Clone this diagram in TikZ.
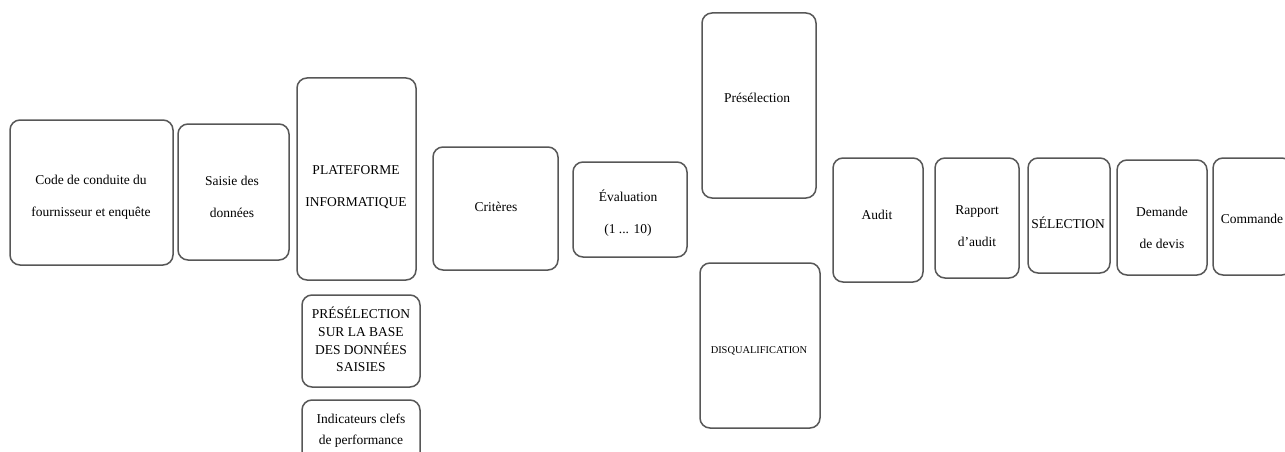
\documentclass[tikz,border=0pt]{standalone}
\usepackage{fontspec}
\setmainfont{Liberation Serif}
\begin{document}
\begin{tikzpicture}[x=1pt,y=-1pt,
  box/.style={draw=black!66, line width=1.5pt, rounded corners=10pt, inner sep=0pt, fill=white},
  txt/.style={align=center, inner sep=0pt, font=\fontsize{13.5}{32}\selectfont},
  txtsm/.style={align=center, inner sep=0pt, font=\fontsize{13.5}{17.7}\selectfont},
  txtmd/.style={align=center, inner sep=0pt, font=\fontsize{13.5}{21}\selectfont}]
\useasboundingbox (0,0) rectangle (1285,452);
\clip (0,0) rectangle (1285,452);
% boxes
\node[box, minimum width=163pt, minimum height=145pt] (code) at (91.5,192.5) {};
\node[box, minimum width=111pt, minimum height=136pt] (saisie) at (233.5,192) {};
\node[box, minimum width=119pt, minimum height=202pt] (plat) at (356.5,179) {};
\node[box, minimum width=118pt, minimum height=92pt] (presbase) at (361,341) {};
\node[box, minimum width=118pt, minimum height=72pt] (indic) at (361,436) {};
\node[box, minimum width=125pt, minimum height=123pt] (crit) at (495.5,208.5) {};
\node[box, minimum width=114pt, minimum height=95pt] (eval) at (630,209.5) {};
\node[box, minimum width=114pt, minimum height=185pt] (presel) at (759,105.5) {};
\node[box, minimum width=120pt, minimum height=165pt] (disq) at (760,345.5) {};
\node[box, minimum width=90pt, minimum height=124pt] (audit) at (878,220) {};
\node[box, minimum width=84pt, minimum height=120pt] (rapport) at (977,218) {};
\node[box, minimum width=82pt, minimum height=115pt] (selec) at (1069,215.5) {};
\node[box, minimum width=90pt, minimum height=115pt] (demande) at (1162,217.5) {};
\node[box, minimum width=79pt, minimum height=117pt] (commande) at (1252.5,216.5) {};
% texts
\node[txt] (tcode) at (91,197) {Code de conduite du\\fournisseur et enquête};
\node[txt] (tsaisie) at (232,197) {Saisie des\\données};
\node[txt] (tplat) at (356,187.5) {PLATEFORME\\INFORMATIQUE};
\node[txtsm] (tpresbase) at (361,339.5) {PRÉSÉLECTION\\SUR LA BASE\\DES DONNÉES\\SAISIES};
\node[txtmd] (tindic) at (361,431) {Indicateurs clefs\\de performance};
\node[txt] (tcrit) at (496,207) {Critères};
\node[txt] (teval) at (628,213.5) {Évaluation\\(1 ... 10)};
\node[txt] (tpresel) at (757,98) {Présélection};
\node[txt, font=\fontsize{10.4}{12}\selectfont] (tdisq) at (759,350.5) {DISQUALIFICATION};
\node[txt] (taudit) at (877,215) {Audit};
\node[txt] (trapport) at (977,226) {Rapport\\d’audit};
\node[txt] (tselec) at (1068,222.5) {SÉLECTION};
\node[txt] (tdemande) at (1162,227.5) {Demande\\de devis};
\node[txt] (tcommande) at (1252,219) {Commande};
\end{tikzpicture}
\end{document}
